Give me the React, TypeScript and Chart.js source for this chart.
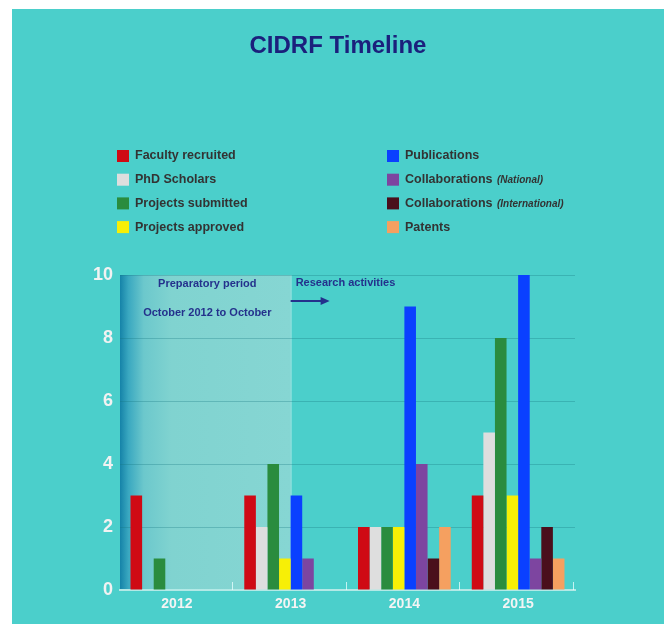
import { useEffect, useRef } from "react";
import { Chart, registerables } from "chart.js";

Chart.register(...registerables);

const years = ["2012", "2013", "2014", "2015"];
const facultyRecruited = [3, 3, 2, 3];
const phdScholars = [0, 2, 2, 5];
const projectsSubmitted = [1, 4, 2, 8];
const projectsApproved = [0, 1, 2, 3];
const publications = [0, 3, 9, 10];
const collaborationsNational = [0, 1, 4, 1];
const collaborationsInternational = [0, 0, 1, 2];
const patents = [0, 0, 2, 1];

const seriesLabels = [
  "Faculty recruited",
  "PhD Scholars",
  "Projects submitted",
  "Projects approved",
  "Publications",
  "Collaborations (National)",
  "Collaborations (International)",
  "Patents",
];
const seriesValues = [
  facultyRecruited,
  phdScholars,
  projectsSubmitted,
  projectsApproved,
  publications,
  collaborationsNational,
  collaborationsInternational,
  patents,
];
const seriesColors = [
  "#cf0a14",
  "#dedede",
  "#2a8c3e",
  "#f7ef06",
  "#0a40ff",
  "#7d45a0",
  "#4a0f1c",
  "#f5a060",
];

const titleText = "CIDRF Timeline";
const periodLine1 = "Preparatory period";
const periodLine2 = "October 2012 to October";
const researchText = "Research activities";
const yMin = 0;
const yMax = 10;
const yStep = 2;

const W = 664;
const H = 624;
const TEAL = "#4bcfcb";
const FONT = "'Liberation Sans', Arial, sans-serif";
const NAVY = "#24318c";

const decorPlugin = {
  id: "decor",
  beforeDraw(chart: any) {
    const { ctx, chartArea, scales } = chart;
    const x = scales.x;
    const y = scales.y;
    ctx.save();
    ctx.fillStyle = "#ffffff";
    ctx.fillRect(0, 0, W, H);
    ctx.fillStyle = TEAL;
    ctx.fillRect(12, 9, W - 12, H - 9);

    // preparatory period shade: from chart left to centre of 2013
    const x0 = chartArea.left;
    const x1 = x.getPixelForValue(1);
    const yTop = y.getPixelForValue(yMax);
    const yBot = y.getPixelForValue(yMin);
    const g = ctx.createLinearGradient(x0, 0, x1, 0);
    g.addColorStop(0, "#1583a8");
    g.addColorStop(0.05, "#3aa8c0");
    g.addColorStop(0.14, "#6cc8cc");
    g.addColorStop(0.3, "#80d3d0");
    g.addColorStop(1, "#86d6d3");
    ctx.fillStyle = g;
    ctx.fillRect(x0, yTop, x1 - x0, yBot - yTop);
    ctx.strokeStyle = "rgba(255,255,255,0.45)";
    ctx.lineWidth = 1;
    ctx.beginPath();
    ctx.moveTo(x1 + 0.5, yTop);
    ctx.lineTo(x1 + 0.5, yBot);
    ctx.stroke();
    ctx.restore();
  },
  afterDraw(chart: any) {
    const { ctx, chartArea, scales } = chart;
    const x = scales.x;
    const y = scales.y;
    ctx.save();

    // title
    ctx.fillStyle = "#1b207c";
    ctx.font = `bold 24px ${FONT}`;
    ctx.textAlign = "center";
    ctx.textBaseline = "alphabetic";
    ctx.fillText(titleText, 338, 53);

    // legend
    const datasets = chart.data.datasets;
    ctx.textAlign = "left";
    ctx.textBaseline = "middle";
    datasets.forEach((ds: any, i: number) => {
      const col = i < 4 ? 0 : 1;
      const row = i % 4;
      const sx = col === 0 ? 117 : 387;
      const cy = 156 + row * 23.7;
      ctx.fillStyle = ds.backgroundColor;
      ctx.fillRect(sx, cy - 6, 12, 12);
      const label: string = ds.label;
      const k = label.indexOf(" (");
      const main = k >= 0 ? label.slice(0, k) : label;
      const note = k >= 0 ? label.slice(k + 1) : "";
      ctx.fillStyle = "#333333";
      ctx.font = `bold 12.5px ${FONT}`;
      const tx = sx + 18;
      ctx.fillText(main, tx, cy);
      if (note) {
        const mw = ctx.measureText(main + " ").width;
        ctx.font = `italic bold 10px ${FONT}`;
        ctx.fillText(note, tx + mw + 1, cy + 0.5);
      }
    });

    // annotations
    const x0 = chartArea.left;
    const x1 = x.getPixelForValue(1);
    const yTop = y.getPixelForValue(yMax);
    ctx.fillStyle = NAVY;
    ctx.font = `bold 11px ${FONT}`;
    ctx.textAlign = "center";
    ctx.textBaseline = "middle";
    ctx.fillText(periodLine1, (x0 + x1) / 2 + 2, yTop + 9);
    ctx.fillText(periodLine2, (x0 + x1) / 2 + 2, yTop + 38);
    ctx.textAlign = "left";
    ctx.fillText(researchText, x1 + 5, yTop + 8);

    // arrow
    const ay = yTop + 26;
    ctx.strokeStyle = NAVY;
    ctx.lineWidth = 2;
    ctx.beginPath();
    ctx.moveTo(x1, ay);
    ctx.lineTo(x1 + 32, ay);
    ctx.stroke();
    ctx.beginPath();
    ctx.moveTo(x1 + 39, ay);
    ctx.lineTo(x1 + 30, ay - 4);
    ctx.lineTo(x1 + 30, ay + 4);
    ctx.closePath();
    ctx.fill();

    // upward category boundary ticks
    const yb = y.getPixelForValue(yMin);
    ctx.strokeStyle = "rgba(235,255,255,0.75)";
    ctx.lineWidth = 1;
    for (let i = 0; i < years.length; i++) {
      const bx = Math.round(x.getPixelForValue(i + 0.5)) - 1.5;
      ctx.beginPath();
      ctx.moveTo(bx, yb);
      ctx.lineTo(bx, yb - 8);
      ctx.stroke();
    }
    ctx.restore();
  },
};

export default function App() {
  const ref = useRef<HTMLCanvasElement | null>(null);

  useEffect(() => {
    if (!ref.current) return;
    const chart = new Chart(ref.current, {
      type: "bar",
      data: {
        labels: years,
        datasets: seriesLabels.map((label, i) => ({
          label,
          data: seriesValues[i],
          backgroundColor: seriesColors[i],
          borderWidth: 0,
          categoryPercentage: 0.815,
          barPercentage: 1.0,
        })),
      },
      options: {
        animation: false,
        responsive: false,
        devicePixelRatio: 1,
        layout: { padding: { top: 275, right: 89, left: 0, bottom: 0 } },
        plugins: {
          legend: { display: false },
          title: { display: false },
          tooltip: { enabled: false },
        },
        scales: {
          x: {
            grid: { display: false, drawTicks: false },
            border: { display: true, color: "#b3e9e6", width: 2 },
            ticks: {
              color: "#f4f4f4",
              font: { family: FONT, size: 14, weight: "bold" },
              padding: 6,
            },
            afterFit(s: any) {
              s.height = 34;
            },
          },
          y: {
            min: yMin,
            max: yMax,
            ticks: {
              stepSize: yStep,
              color: "#f2f2f2",
              font: { family: FONT, size: 18, weight: "bold" },
              padding: 7,
            },
            grid: {
              drawTicks: false,
              lineWidth: 1,
              color: (c: any) =>
                c.tick && c.tick.value === 0 ? "rgba(0,0,0,0)" : "rgba(20,115,125,0.3)",
            },
            border: { display: false },
            afterFit(s: any) {
              s.width = 120;
            },
          },
        },
      },
      plugins: [decorPlugin],
    } as any);
    return () => chart.destroy();
  }, []);

  return (
    <div style={{ position: "absolute", left: 0, top: 0, width: W, height: H }}>
      <canvas ref={ref} width={W} height={H} style={{ width: W, height: H, display: "block" }} />
    </div>
  );
}
